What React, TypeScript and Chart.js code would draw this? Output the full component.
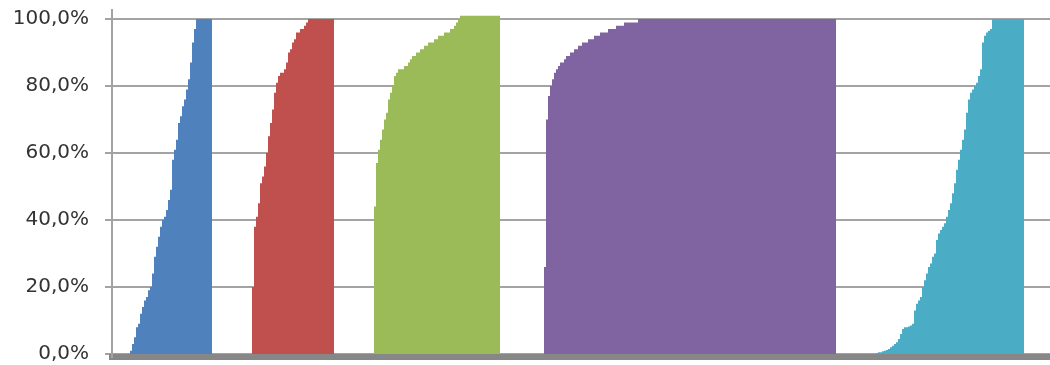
import React, { useEffect, useRef } from "react";
import { Chart, registerables } from "chart.js";

Chart.register(...registerables);

// Y axis ticks (percent)
const yTickValues = [0, 20, 40, 60, 80, 100];

// Series meta
const seriesNames = ["Série 1", "Série 2", "Série 3", "Série 4", "Série 5"];
const seriesColors = ["#4f81bd", "#c0504d", "#9bbb59", "#8064a2", "#4bacc6"];
// sample index where each group of bars begins
const seriesStart = [9, 70, 131, 216, 382];
const totalSamples = 469;

// Cumulative percentages, one value per sample; the last value is held for "TopRun" samples
const blueValues = [1, 3, 5, 8, 9, 12, 14, 16, 17, 19, 20, 24, 29, 32, 35, 38, 40, 41, 43, 46, 49, 58, 61, 64, 69, 71, 74, 76, 79, 82, 87, 93, 97, 100];
const blueTopRun = 8;

const redValues = [20, 38, 41, 45, 51, 53, 56, 60, 65, 69, 73, 78, 81, 83, 84, 84, 85, 87, 90, 91, 93, 94, 96, 96, 97, 97, 98, 99, 100];
const redTopRun = 13;

const greenValues = [44, 57, 61, 64, 67, 70, 72, 76, 78, 80, 83, 84, 85, 85, 85, 86, 86, 87, 88, 89, 89, 90, 90, 91, 91, 92, 92, 93, 93, 93, 94, 94, 95, 95, 95, 96, 96, 96, 97, 97, 98, 99, 100, 101];
const greenTopRun = 20;

const purpleValues = [26, 70, 77, 80, 82, 84, 85, 86, 87, 87, 88, 89, 89, 90, 90, 91, 91, 92, 92, 93, 93, 93, 94, 94, 94, 95, 95, 95, 96, 96, 96, 96, 97, 97, 97, 97, 98, 98, 98, 98, 99, 99, 99, 99, 99, 99, 99, 100];
const purpleTopRun = 99;

const cyanValues = [0.3, 0.5, 0.5, 0.8, 1, 1.2, 1.5, 2, 2.5, 3, 3.5, 4.5, 6, 7.5, 8, 8, 8.2, 8.5, 9, 13, 15, 16, 17, 20, 22, 24, 26, 27, 29, 30, 34, 36, 37, 38, 39, 41, 43, 45, 48, 51, 55, 58, 61, 64, 67, 72, 76, 78, 79, 80, 81, 83, 85, 93, 95, 96, 96.5, 97, 100];
const cyanTopRun = 16;

const seriesValues = [blueValues, redValues, greenValues, purpleValues, cyanValues];
const seriesTopRuns = [blueTopRun, redTopRun, greenTopRun, purpleTopRun, cyanTopRun];

function stepPoints(start: number, values: number[], topRun: number) {
  const pts: { x: number; y: number }[] = values.map((v, i) => ({ x: start + i, y: v }));
  const last = values[values.length - 1];
  pts.push({ x: start + values.length - 1 + topRun, y: last });
  return pts;
}

export default function App() {
  const canvasRef = useRef<HTMLCanvasElement | null>(null);

  useEffect(() => {
    if (!canvasRef.current) return;
    const datasets = seriesValues.map((vals, k) => ({
      label: seriesNames[k],
      data: stepPoints(seriesStart[k], vals, seriesTopRuns[k]),
      stepped: true as const,
      fill: "origin" as const,
      backgroundColor: seriesColors[k],
      borderColor: seriesColors[k],
      borderWidth: 0,
      pointRadius: 0,
      tension: 0,
    }));

    const chart = new Chart(canvasRef.current, {
      type: "line",
      data: { datasets },
      options: {
        animation: false,
        responsive: false,
        devicePixelRatio: 1,
        layout: { padding: { top: 10, bottom: 7.65, left: 0, right: 0 } },
        plugins: { legend: { display: false }, tooltip: { enabled: false } },
        scales: {
          x: {
            type: "linear",
            min: 0,
            max: totalSamples,
            ticks: { display: false },
            grid: { display: true, color: "rgba(0,0,0,0)", drawTicks: false },
            border: { display: true, width: 6, color: "#878787" },
            afterFit: (s: any) => {
              s.height = 0;
              s.paddingLeft = 0;
              s.paddingRight = 0;
            },
          },
          y: {
            type: "linear",
            min: -1,
            max: 102.7,
            afterBuildTicks: (s: any) => {
              s.ticks = yTickValues.map((v) => ({ value: v }));
            },
            ticks: {
              color: "#333333",
              padding: 16,
              font: { family: "'DejaVu Sans'", size: 20 },
              callback: (v: any) => Number(v).toFixed(1).replace(".", ",") + "%",
            },
            grid: { color: "#a3a3a3", lineWidth: 2, tickLength: 7, drawTicks: true },
            border: { display: true, color: "#a3a3a3", width: 2 },
            afterFit: (s: any) => {
              s.width = 112;
              s.paddingTop = 0;
              s.paddingBottom = 0;
            },
          },
        },
      },
    });
    return () => chart.destroy();
  }, []);

  return (
    <div style={{ position: "fixed", left: 0, top: 0, width: 1050, height: 365, background: "#ffffff" }}>
      <canvas ref={canvasRef} width={1050} height={365} style={{ display: "block" }} />
    </div>
  );
}
